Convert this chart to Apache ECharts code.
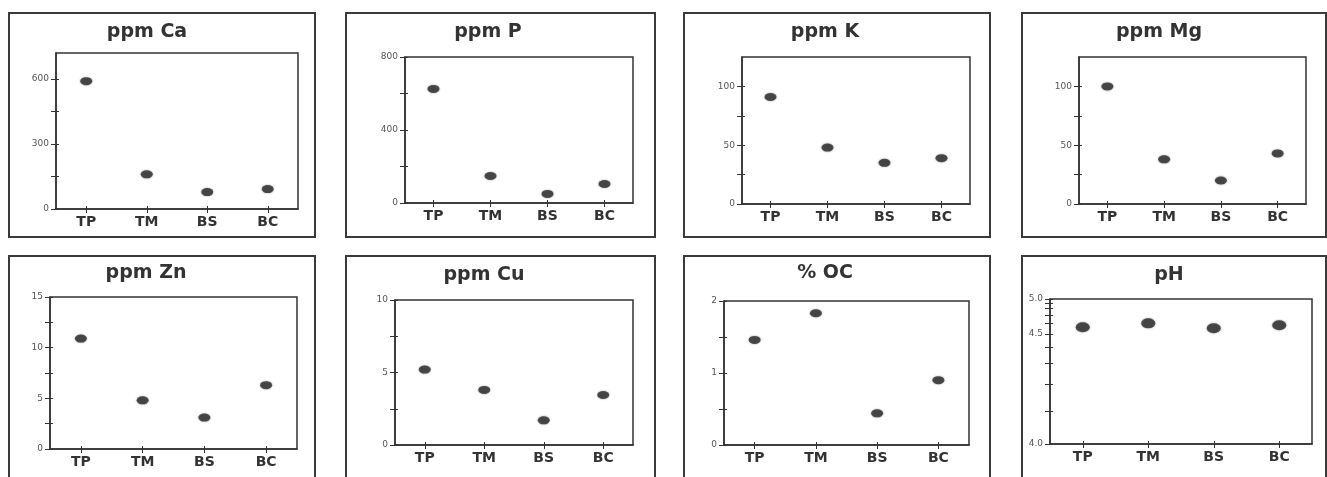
<!DOCTYPE html>
<html>
<head>
<meta charset="utf-8">
<title>Soil properties by site</title>
<script src="https://cdn.jsdelivr.net/npm/echarts@6/dist/echarts.min.js"></script>
<style>
  html, body { margin: 0; padding: 0; background: #ffffff; }
  #chart { width: 1327px; height: 477px; }
</style>
</head>
<body>
<div id="chart"></div>
<script>
"use strict";

/* ---------- data ---------- */

const sites = ["TP", "TM", "BS", "BC"];

const caValues = [590, 160, 78, 92];
const pValues  = [625, 148, 50, 104];
const kValues  = [91, 48, 35, 39];
const mgValues = [100, 38, 20, 43];
const znValues = [10.9, 4.8, 3.1, 6.3];
const cuValues = [5.2, 3.8, 1.7, 3.45];
const ocValues = [1.46, 1.83, 0.44, 0.9];
const phValues = [4.56, 4.60, 4.55, 4.58];

const panelTitles = ["ppm Ca", "ppm P", "ppm K", "ppm Mg", "ppm Zn", "ppm Cu", "% OC", "pH"];

// y axis ticks / labelled ticks per panel
const caTicks = [0, 150, 300, 450, 600];       const caLabels = [0, 300, 600];
const pTicks  = [0, 200, 400, 600, 800];       const pLabels  = [0, 400, 800];
const kTicks  = [0, 25, 50, 75, 100];          const kLabels  = [0, 50, 100];
const mgTicks = [0, 25, 50, 75, 100];          const mgLabels = [0, 50, 100];
const znTicks = [0, 2.5, 5, 7.5, 10, 12.5, 15]; const znLabels = [0, 5, 10, 15];
const cuTicks = [0, 2.5, 5, 7.5, 10];          const cuLabels = [0, 5, 10];
const ocTicks = [0, 0.5, 1, 1.5, 2];           const ocLabels = [0, 1, 2];
const phTicks = [5.0, 4.9, 4.8, 4.7, 4.6, 4.5, 4.4, 4.3, 4.2, 4.1, 4.0];
const phLabels = [5.0, 4.5, 4.0];

/* ---------- look ---------- */

const INK = "#333333";
const FONT = "DejaVu Sans";

// pH axis is drawn linear in hydrogen ion activity (relative to pH 5)
const toH = ph => Math.pow(10, 5 - ph);
const fromH = h => 5 - Math.log10(h);

const panels = [
    { values: caValues, min: 0, max: 720, ticks: caTicks, labels: caLabels },
    { values: pValues,  min: 0, max: 800, ticks: pTicks,  labels: pLabels },
    { values: kValues,  min: 0, max: 125, ticks: kTicks,  labels: kLabels },
    { values: mgValues, min: 0, max: 125, ticks: mgTicks, labels: mgLabels },
    { values: znValues, min: 0, max: 15,  ticks: znTicks, labels: znLabels },
    { values: cuValues, min: 0, max: 10,  ticks: cuTicks, labels: cuLabels },
    { values: ocValues, min: 0, max: 2,   ticks: ocTicks, labels: ocLabels },
    { values: phValues.map(toH), min: 1, max: 10, inverse: true,
      ticks: phTicks.map(toH), labels: phLabels.map(toH),
      format: v => fromH(v).toFixed(1), dot: [14, 10] }
];

// plot areas, title centres and outer frames (pixels)
const plotRects = [
    { left: 56,   top: 53,  width: 242, height: 156 },
    { left: 405,  top: 57,  width: 228, height: 146 },
    { left: 742,  top: 57,  width: 228, height: 147 },
    { left: 1079, top: 57,  width: 227, height: 147 },
    { left: 50,   top: 297, width: 247, height: 152 },
    { left: 395,  top: 300, width: 238, height: 145 },
    { left: 724,  top: 301, width: 245, height: 144 },
    { left: 1050, top: 299, width: 262, height: 145 }
];
const titleCentres = [[147, 32], [488, 32], [825, 32], [1159, 32],
                      [146, 273], [484, 275], [825, 273], [1169, 275]];
const frameCols = [[9, 315], [346, 655], [684, 990], [1022, 1326]];
const frameRows = [[13, 237], [256, 492]];

/* ---------- build ---------- */

// each axis is drawn twice: once for line, labels and the outward half
// of the ticks, once more for the short inward half (ticks cross the line)
function valueAxes(i, p){
    const base = {
        type: "value", gridIndex: i, position: "left", offset: 0,
        min: p.min, max: p.max, inverse: !!p.inverse,
        splitLine: { show: false }
    };
    return [
        { ...base,
          axisLine: { show: true, lineStyle: { color: INK, width: 1.5 } },
          axisTick: { show: true, length: 5, customValues: p.ticks, lineStyle: { color: INK } },
          axisLabel: { show: true, customValues: p.labels, formatter: p.format,
                       fontSize: 9, color: "#555", margin: 7, fontFamily: FONT } },
        { ...base,
          axisLine: { show: true, lineStyle: { color: "rgba(0,0,0,0)" } },
          axisTick: { show: true, inside: true, length: 3, customValues: p.ticks, lineStyle: { color: INK } },
          axisLabel: { show: false } }
    ];
}

function categoryAxes(i){
    const base = { type: "category", gridIndex: i, position: "bottom", offset: 0, data: sites, boundaryGap: true };
    return [
        { ...base,
          axisLine: { show: true, lineStyle: { color: INK, width: 1.5 } },
          axisTick: { show: true, alignWithLabel: true, length: 4, lineStyle: { color: INK } },
          axisLabel: { fontSize: 14, fontWeight: "bold", color: INK, margin: 6, fontFamily: FONT } },
        { ...base,
          axisLine: { show: true, lineStyle: { color: "rgba(0,0,0,0)" } },
          axisTick: { show: true, alignWithLabel: true, inside: true, length: 3, lineStyle: { color: INK } },
          axisLabel: { show: false } }
    ];
}

const grids = [], xAxes = [], yAxes = [], series = [], titles = [];

panels.forEach((p, i) => {
    grids.push({ ...plotRects[i], show: true, borderColor: INK, borderWidth: 1.5, backgroundColor: "transparent" });
    xAxes.push(...categoryAxes(i));
    yAxes.push(...valueAxes(i, p));
    titles.push({
        text: panelTitles[i], left: titleCentres[i][0], top: titleCentres[i][1],
        textAlign: "center", textVerticalAlign: "middle", padding: 0,
        textStyle: { fontFamily: FONT, fontSize: 19, fontWeight: "bold", color: INK }
    });
    series.push({
        type: "scatter",
        xAxisIndex: 2 * i,
        yAxisIndex: 2 * i,
        data: p.values,
        symbol: "circle",
        symbolSize: p.dot || [12, 8],
        itemStyle: { color: "#2e2e2e", shadowBlur: 2, shadowColor: "rgba(0,0,0,0.5)" },
        silent: true
    });
});

const frames = [];
frameRows.forEach(r => frameCols.forEach(c => {
    frames.push({
        type: "rect",
        shape: { x: c[0], y: r[0], width: c[1] - c[0], height: r[1] - r[0] },
        style: { fill: "none", stroke: "#3a3a3a", lineWidth: 2 },
        silent: true
    });
}));

const chart = echarts.init(document.getElementById("chart"));
chart.setOption({
    animation: false,
    backgroundColor: "#ffffff",
    title: titles,
    grid: grids,
    xAxis: xAxes,
    yAxis: yAxes,
    series: series,
    graphic: frames
});

window.addEventListener("resize", () => chart.resize());
</script>
</body>
</html>
